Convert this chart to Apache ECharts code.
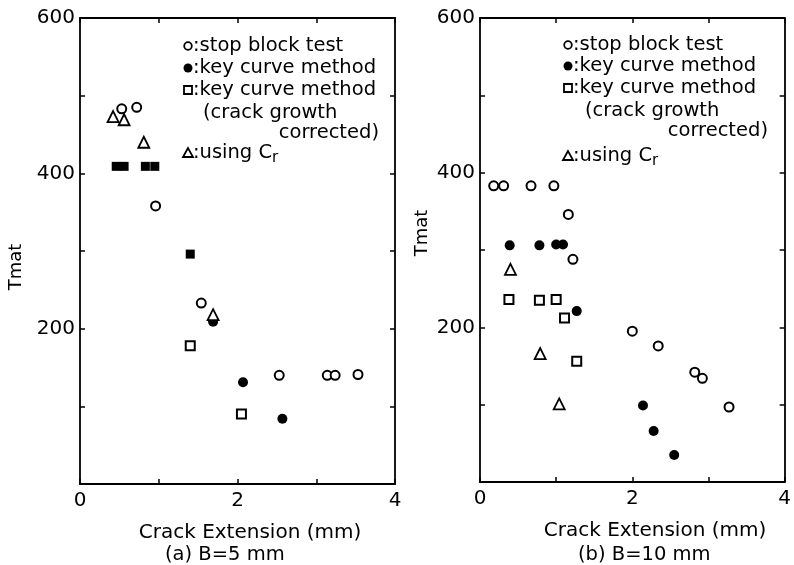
<!DOCTYPE html>
<html><head><meta charset="utf-8">
<script src="https://cdn.jsdelivr.net/npm/echarts/dist/echarts.min.js"></script>
<style>html,body{margin:0;padding:0;background:#fff}#c{width:794px;height:565px}</style>
</head><body><div id="c"></div>
<script>
// ---- Panel (a) B = 5 mm ----
const aStopX = [0.53, 0.72, 0.96, 1.54, 2.53, 3.14, 3.24, 3.53];
const aStopY = [483, 485, 358, 233, 140, 140, 140, 141];
const aKeyX = [1.69, 2.07, 2.57];
const aKeyY = [209, 131, 84];
const aBothX = [0.46, 0.56, 0.83, 0.95, 1.40];   // key curve points drawn as solid blocks
const aBothY = [409, 409, 409, 409, 296];
const aCorrX = [1.40, 2.05];
const aCorrY = [178, 90];
const aCrX = [0.42, 0.56, 0.81, 1.69];
const aCrY = [473, 469, 440, 218];
// ---- Panel (b) B = 10 mm ----
const bStopX = [0.18, 0.31, 0.67, 0.97, 1.16, 1.22, 2.00, 2.34, 2.82, 2.92, 3.27];
const bStopY = [383, 383, 383, 383, 346, 288, 195, 176, 142, 134, 97];
const bKeyX = [0.39, 0.78, 1.00, 1.09, 1.27, 2.14, 2.28, 2.55];
const bKeyY = [306, 306, 307, 307, 221, 99, 66, 35];
const bCorrX = [0.38, 0.78, 1.00, 1.11, 1.27];
const bCorrY = [236, 235, 236, 212, 156];
const bCrX = [0.40, 0.79, 1.04];
const bCrY = [275, 166, 101];
// ---- axes / text ----
const xTicks = [0, 1, 2, 3, 4];
const yTicks = [0, 100, 200, 300, 400, 500, 600];
const xLabelled = [0, 2, 4];
const yLabelled = [200, 400, 600];
const xName = 'Crack Extension (mm)';
const yName = 'Tmat';
const captions = ['(a) B=5 mm', '(b) B=10 mm'];
const legendText = ['stop block test', 'key curve method', 'key curve method', '(crack growth', 'corrected)', 'using C'];

const FONT = 'DejaVu Sans';
const pts = (xs, ys) => xs.map((x, i) => [x, ys[i]]);

const chart = echarts.init(document.getElementById('c'), null, {renderer: 'canvas'});

const grids = [
  {left: 80, top: 18, width: 315, height: 466},
  {left: 480, top: 18, width: 313, height: 464}
];
const axisLine = {show: true, onZero: false, lineStyle: {color: '#000', width: 1.8}};
const xAxes = [], yAxes = [];
grids.forEach((g, i) => {
  xAxes.push({
    gridIndex: i, type: 'value', min: xTicks[0], max: xTicks[xTicks.length - 1], interval: 1,
    position: 'bottom', axisLine: axisLine, splitLine: {show: false},
    axisTick: {show: true, inside: true, length: 5, lineStyle: {color: '#000', width: 1.5}},
    axisLabel: {show: true, margin: 7, color: '#000', fontFamily: FONT, fontSize: 20,
      formatter: v => xLabelled.includes(v) ? String(v) : ''}
  });
  xAxes.push({
    gridIndex: i, type: 'value', min: xTicks[0], max: xTicks[xTicks.length - 1], interval: 1,
    position: 'top', axisLine: axisLine, splitLine: {show: false},
    axisTick: {show: true, inside: true, length: 5, lineStyle: {color: '#000', width: 1.5}},
    axisLabel: {show: false}
  });
  yAxes.push({
    gridIndex: i, type: 'value', min: yTicks[0], max: yTicks[yTicks.length - 1], interval: 100,
    position: 'left', axisLine: axisLine, splitLine: {show: false},
    axisTick: {show: true, inside: true, length: 5, lineStyle: {color: '#000', width: 1.5}},
    axisLabel: {show: true, margin: 5, color: '#000', fontFamily: FONT, fontSize: 20,
      formatter: v => yLabelled.includes(v) ? String(v) : ''}
  });
  yAxes.push({
    gridIndex: i, type: 'value', min: yTicks[0], max: yTicks[yTicks.length - 1], interval: 100,
    position: 'right', axisLine: axisLine, splitLine: {show: false},
    axisTick: {show: true, inside: true, length: 5, lineStyle: {color: '#000', width: 1.5}},
    axisLabel: {show: false}
  });
});

const openCircle = {symbol: 'circle', symbolSize: 9, itemStyle: {color: '#fff', borderColor: '#000', borderWidth: 2, opacity: 1}};
const filledCircle = {symbol: 'circle', symbolSize: 10, itemStyle: {color: '#000', borderColor: '#000', borderWidth: 0, opacity: 1}};
const openSquare = {symbol: 'rect', symbolSize: 9, itemStyle: {color: '#fff', borderColor: '#000', borderWidth: 2, opacity: 1}};
const filledSquare = {symbol: 'rect', symbolSize: 9, itemStyle: {color: '#000', borderColor: '#000', borderWidth: 0, opacity: 1}};
const openTri = {symbol: 'triangle', symbolSize: 11, itemStyle: {color: '#fff', borderColor: '#000', borderWidth: 1.8, opacity: 1}};

function sc(name, data, style, gi, z) {
  return Object.assign({type: 'scatter', name: name, data: data, xAxisIndex: gi * 2, yAxisIndex: gi * 2,
    z: z, silent: true, animation: false}, style);
}
const series = [
  sc('key curve method', pts(aBothX, aBothY), filledSquare, 0, 2),
  sc('key curve method', pts(aKeyX, aKeyY), filledCircle, 0, 2),
  sc('key curve method (crack growth corrected)', pts(aCorrX, aCorrY), openSquare, 0, 3),
  sc('stop block test', pts(aStopX, aStopY), openCircle, 0, 4),
  sc('using Cr', pts(aCrX, aCrY), openTri, 0, 5),
  sc('key curve method', pts(bKeyX, bKeyY), filledCircle, 1, 2),
  sc('key curve method (crack growth corrected)', pts(bCorrX, bCorrY), openSquare, 1, 3),
  sc('stop block test', pts(bStopX, bStopY), openCircle, 1, 4),
  sc('using Cr', pts(bCrX, bCrY), openTri, 1, 5)
];

// legend + names drawn as graphic text
const LF = '19.5px "' + FONT + '"';
const txt = (x, y, s, extra) => ({type: 'text', x: x, y: y, silent: true,
  style: Object.assign({text: s, fill: '#000', font: LF, textVerticalAlign: 'middle', verticalAlign: 'middle'}, extra || {})});
function legendBlock(sx, ys, wrapX, corrRight) {
  const g = [];
  const stroke = {stroke: '#000', lineWidth: 1.8};
  g.push({type: 'circle', shape: {cx: sx, cy: ys[0], r: 3.8}, style: Object.assign({fill: '#fff'}, stroke), silent: true});
  g.push({type: 'circle', shape: {cx: sx, cy: ys[1], r: 4.5}, style: {fill: '#000'}, silent: true});
  g.push({type: 'rect', shape: {x: sx - 4, y: ys[2] - 4, width: 8, height: 8}, style: Object.assign({fill: '#fff'}, stroke), silent: true});
  g.push({type: 'polygon', shape: {points: [[sx, ys[5] - 5], [sx - 5, ys[5] + 4], [sx + 5, ys[5] + 4]]}, style: Object.assign({fill: '#fff'}, stroke), silent: true});
  g.push(txt(sx + 5, ys[0], ':' + legendText[0]));
  g.push(txt(sx + 5, ys[1], ':' + legendText[1]));
  g.push(txt(sx + 5, ys[2], ':' + legendText[2]));
  g.push(txt(wrapX, ys[3], legendText[3]));
  g.push(txt(corrRight, ys[4], legendText[4], {align: 'right', textAlign: 'right'}));
  g.push({type: 'text', x: sx + 5, y: ys[5], silent: true,
    style: {text: ':' + legendText[5] + '{s|r}', fill: '#000', font: LF, verticalAlign: 'middle', textVerticalAlign: 'middle',
      rich: {s: {fontSize: 15, fontFamily: FONT, fill: '#000', padding: [10, 0, 0, 0]}}}});
  return g;
}
const graphic = [].concat(
  legendBlock(188, [46, 68, 90, 113, 133, 153], 203, 379),
  legendBlock(568, [45, 66, 88, 111, 131, 156], 585, 768),
  [
    txt(16, 267, yName, {align: 'center', textAlign: 'center', font: '18px "' + FONT + '"'}),
    txt(422, 233, yName, {align: 'center', textAlign: 'center', font: '18px "' + FONT + '"'}),
    txt(250, 533, xName, {align: 'center', textAlign: 'center', font: '20px "' + FONT + '"'}),
    txt(655, 531, xName, {align: 'center', textAlign: 'center', font: '20px "' + FONT + '"'}),
    txt(165, 555, captions[0]),
    txt(578, 555, captions[1])
  ]
);
graphic[graphic.length - 6].rotation = Math.PI / 2;
graphic[graphic.length - 5].rotation = Math.PI / 2;

chart.setOption({
  animation: false,
  backgroundColor: '#fff',
  textStyle: {fontFamily: FONT},
  grid: grids,
  xAxis: xAxes,
  yAxis: yAxes,
  series: series,
  graphic: graphic
});
</script></body></html>
